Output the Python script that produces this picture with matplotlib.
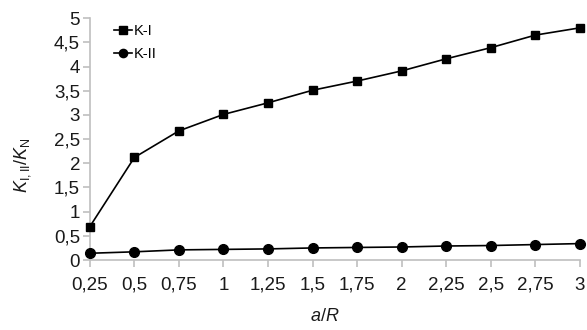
import matplotlib
matplotlib.use("Agg")
from matplotlib import pyplot as plt
import numpy as np

plt.rcParams["font.family"] = ["Liberation Sans", "DejaVu Sans"]
plt.rcParams["mathtext.fontset"] = "custom"
plt.rcParams["mathtext.rm"] = "Liberation Sans"
plt.rcParams["mathtext.it"] = "Liberation Sans:italic"

a_R = [0.25, 0.5, 0.75, 1.0, 1.25, 1.5, 1.75, 2.0, 2.25, 2.5, 2.75, 3.0]
k_I = [0.69, 2.12, 2.67, 3.01, 3.25, 3.51, 3.70, 3.91, 4.16, 4.39, 4.65, 4.80]
k_II = [0.14, 0.17, 0.21, 0.22, 0.23, 0.25, 0.26, 0.27, 0.29, 0.30, 0.32, 0.34]
x_labels = ["0,25", "0,5", "0,75", "1", "1,25", "1,5", "1,75", "2", "2,25", "2,5", "2,75", "3"]
y_ticks = [0, 0.5, 1, 1.5, 2, 2.5, 3, 3.5, 4, 4.5, 5]
y_labels = ["0", "0,5", "1", "1,5", "2", "2,5", "3", "3,5", "4", "4,5", "5"]

fig = plt.figure(figsize=(5.87, 3.30), dpi=100)
ax = fig.add_axes([0.153, 0.212, 0.835, 0.733])

ax.plot(a_R, k_I, color="black", lw=1.2, marker="s", ms=6, label="K-I", clip_on=False, zorder=3)
ax.plot(a_R, k_II, color="black", lw=1.2, marker="o", ms=7, label="K-II", clip_on=False, zorder=3)

ax.set_xlim(0.25, 3.0)
ax.set_ylim(0, 5)
ax.set_xticks(a_R)
ax.set_xticklabels(x_labels)
ax.set_yticks(y_ticks)
ax.set_yticklabels(y_labels)

for side in ["top", "right"]:
    ax.spines[side].set_visible(False)
for side in ["left", "bottom"]:
    ax.spines[side].set_color("#bfbfbf")
    ax.spines[side].set_linewidth(1.2)
ax.tick_params(colors="#bfbfbf", labelcolor="#1a1a1a", labelsize=13.5, length=5, width=1.2)
ax.tick_params(axis="x", pad=7)
ax.tick_params(axis="y", pad=2)

ax.set_xlabel("$a$/$R$", fontsize=13, color="#1a1a1a")
ax.xaxis.set_label_coords(0.48, -0.2)
ax.set_ylabel("$K_{\\mathrm{I,II}}$/$K_{\\mathrm{N}}$", fontsize=13, color="#1a1a1a")
ax.yaxis.set_label_coords(-0.115, 0.39)

ax.legend(loc="upper left", bbox_to_anchor=(0.05, 0.975), frameon=False, fontsize=10.5,
          borderpad=0, borderaxespad=0, handlelength=1.2, handletextpad=0.1,
          labelspacing=0.6, markerscale=0.85)

plt.savefig("out.png", dpi=100)
